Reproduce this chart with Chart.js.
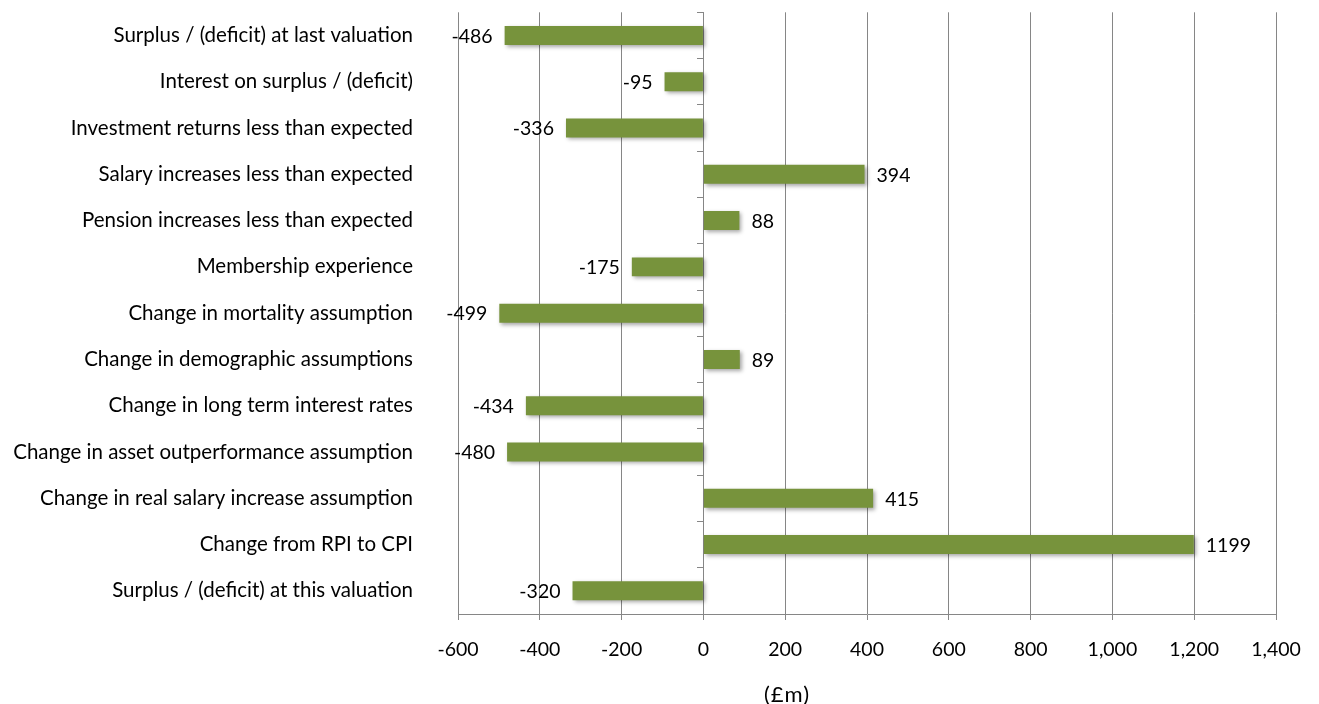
<!DOCTYPE html>
<html>
<head>
<meta charset="utf-8">
<script src="https://cdn.jsdelivr.net/npm/chart.js@4/dist/chart.umd.min.js"></script>
<style>
  html, body { margin: 0; padding: 0; background: #fff; }
  #wrap { position: relative; width: 1319px; height: 704px; }
  #unit {
    position: absolute; left: 787px; top: 680px; transform: translateX(-50%);
    font: 22px Lato, sans-serif; letter-spacing: 1px; color: #000; white-space: nowrap;
  }
</style>
</head>
<body>
<div id="wrap">
  <canvas id="c" width="1319" height="704"></canvas>
  <div id="unit">(£m)</div>
</div>
<script>
// Items in the valuation reconciliation, top to bottom
const categories = [
  "Surplus / (deficit) at last valuation",
  "Interest on surplus / (deficit)",
  "Investment returns less than expected",
  "Salary increases less than expected",
  "Pension increases less than expected",
  "Membership experience",
  "Change in mortality assumption",
  "Change in demographic assumptions",
  "Change in long term interest rates",
  "Change in asset outperformance assumption",
  "Change in real salary increase assumption",
  "Change from RPI to CPI",
  "Surplus / (deficit) at this valuation",
];
// £m
const values = [-486, -95, -336, 394, 88, -175, -499, 89, -434, -480, 415, 1199, -320];

const xMin = -600, xMax = 1400, xStep = 200;

const FONT = "Lato, sans-serif";
const GREEN = "#77933C";
const GRID = "#868686";

// soft drop shadow under the bars
const barShadow = {
  id: "barShadow",
  beforeDatasetsDraw(chart) {
    const ctx = chart.ctx;
    ctx.save();
    ctx.shadowColor = "rgba(0,0,0,0.35)";
    ctx.shadowBlur = 4;
    ctx.shadowOffsetX = 2;
    ctx.shadowOffsetY = 2;
  },
  afterDatasetsDraw(chart) {
    chart.ctx.restore();
  },
};

// value written just past the end of each bar
const endLabels = {
  id: "endLabels",
  afterDraw(chart) {
    const ctx = chart.ctx;
    const meta = chart.getDatasetMeta(0);
    const data = chart.data.datasets[0].data;
    ctx.save();
    ctx.font = "19.5px " + FONT;
    ctx.fillStyle = "#000";
    ctx.textBaseline = "middle";
    meta.data.forEach((bar, i) => {
      const v = data[i];
      const neg = v < 0;
      ctx.textAlign = neg ? "right" : "left";
      ctx.fillText(String(v), bar.x + (neg ? -12 : 12), bar.y + 1);
    });
    ctx.restore();
  },
};

new Chart(document.getElementById("c"), {
  type: "bar",
  data: {
    labels: categories,
    datasets: [{
      data: values,
      backgroundColor: GREEN,
      borderWidth: 0,
      barPercentage: 0.41,
      categoryPercentage: 1,
    }],
  },
  options: {
    indexAxis: "y",
    responsive: false,
    animation: false,
    locale: "en-US",
    layout: { padding: { top: 12, right: 43, left: 0, bottom: 0 } },
    plugins: { legend: { display: false }, tooltip: { enabled: false } },
    scales: {
      x: {
        type: "linear",
        min: xMin,
        max: xMax,
        ticks: { stepSize: xStep, color: "#000", font: { family: FONT, size: 19.5 }, padding: 18 },
        grid: { color: GRID, tickLength: 6, lineWidth: 1 },
        border: { color: GRID },
        afterFit: (s) => { s.height = 90; },
      },
      y: {
        type: "category",
        // invisible long ticks keep the labels well clear of the plot
        grid: { drawOnChartArea: false, drawTicks: true, tickLength: 45, color: "rgba(0,0,0,0)" },
        border: { display: false },
        ticks: { color: "#000", font: { family: FONT, size: 20.5 }, padding: 0 },
        afterFit: (s) => { s.width = 458; },
      },
      // vertical axis line at zero with category tick marks
      y0: {
        type: "category",
        axis: "y",
        position: { x: 0 },
        offset: true,
        grid: { offset: true, drawOnChartArea: false, tickLength: 6, color: GRID },
        border: { color: GRID },
        ticks: { display: false },
      },
    },
  },
  plugins: [barShadow, endLabels],
});
</script>
</body>
</html>
